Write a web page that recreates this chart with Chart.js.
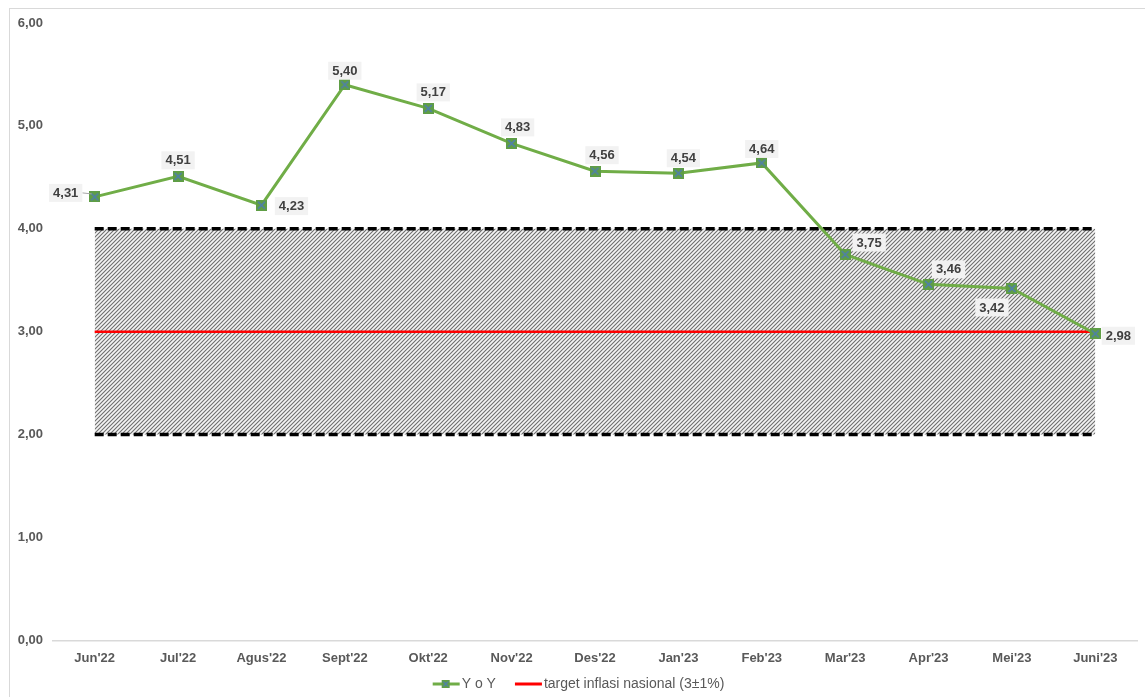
<!DOCTYPE html>
<html>
<head>
<meta charset="utf-8">
<script src="https://cdn.jsdelivr.net/npm/chart.js@4/dist/chart.umd.min.js"></script>
<style>
  html, body { margin: 0; padding: 0; background: #fff; }
  #wrap { position: absolute; left: 0; top: 0; width: 1145px; height: 697px; }
  #frame { position: absolute; left: 9px; top: 8px; width: 1145px; height: 700px; border: 1px solid #d9d9d9; pointer-events: none; }
</style>
</head>
<body>
<div id="wrap"><canvas id="c" width="1145" height="697"></canvas></div>
<div id="frame"></div>
<script>
const categories = ["Jun'22","Jul'22","Agus'22","Sept'22","Okt'22","Nov'22","Des'22","Jan'23","Feb'23","Mar'23","Apr'23","Mei'23","Juni'23"];
const yoyValues = [4.31, 4.51, 4.23, 5.40, 5.17, 4.83, 4.56, 4.54, 4.64, 3.75, 3.46, 3.42, 2.98];
const targetValues = [3, 3, 3, 3, 3, 3, 3, 3, 3, 3, 3, 3, 3];
const bandUpper = [4, 4, 4, 4, 4, 4, 4, 4, 4, 4, 4, 4, 4];
const bandLower = [2, 2, 2, 2, 2, 2, 2, 2, 2, 2, 2, 2, 2];
const yTicks = [0, 1, 2, 3, 4, 5, 6];
const seriesNames = ["Y o Y", "target inflasi nasional (3\u00b11%)"];

const FONT = "'Liberation Sans', Arial, sans-serif";
const fmt = v => v.toFixed(2).replace('.', ',');

function makeHatch() {
  const s = 4;
  const c = document.createElement('canvas');
  c.width = s; c.height = s;
  const g = c.getContext('2d');
  g.fillStyle = '#f4f4f4';
  g.fillRect(0, 0, s, s);
  g.strokeStyle = '#6e6e6e';
  g.lineWidth = 1.1;
  g.beginPath();
  g.moveTo(-1, s + 1); g.lineTo(s + 1, -1);
  g.moveTo(-1, 1); g.lineTo(1, -1);
  g.moveTo(s - 1, s + 1); g.lineTo(s + 1, s - 1);
  g.stroke();
  return document.getElementById('c').getContext('2d').createPattern(c, 'repeat');
}

function makeMarker() {
  const c = document.createElement('canvas');
  c.width = 11; c.height = 11;
  const g = c.getContext('2d');
  g.fillStyle = '#5f9e45';
  g.fillRect(0, 0, 11, 11);
  g.strokeStyle = '#4f7fae';
  g.lineWidth = 1.6;
  g.beginPath();
  g.moveTo(2, 2); g.lineTo(9, 9);
  g.moveTo(9, 2); g.lineTo(2, 9);
  g.stroke();
  return c;
}

// legend symbols: 52px wide canvases, symbol in the right-hand part
function makeLegendYoY() {
  const c = document.createElement('canvas');
  c.width = 52; c.height = 10;
  const g = c.getContext('2d');
  g.strokeStyle = '#70ad47';
  g.lineWidth = 3;
  g.beginPath(); g.moveTo(24, 5); g.lineTo(51, 5); g.stroke();
  g.fillStyle = '#5f9e45';
  g.fillRect(33, 1, 8, 8);
  g.strokeStyle = '#4f7fae';
  g.lineWidth = 1.2;
  g.beginPath();
  g.moveTo(34.5, 2.5); g.lineTo(39.5, 7.5);
  g.moveTo(39.5, 2.5); g.lineTo(34.5, 7.5);
  g.stroke();
  return c;
}

function makeLegendTarget() {
  const c = document.createElement('canvas');
  c.width = 52; c.height = 10;
  const g = c.getContext('2d');
  g.strokeStyle = '#ff0000';
  g.lineWidth = 3;
  g.beginPath(); g.moveTo(24, 5); g.lineTo(51, 5); g.stroke();
  return c;
}

const markerImg = makeMarker();
const legendImgs = [makeLegendYoY(), makeLegendTarget()];

const dataLabelPlugin = {
  id: 'dataLabels',
  afterDatasetsDraw(chart, args, opts) {
    const ctx = chart.ctx;
    const meta = chart.getDatasetMeta(0);
    ctx.save();
    ctx.font = 'bold 13px ' + FONT;
    ctx.textAlign = 'center';
    ctx.textBaseline = 'middle';
    meta.data.forEach((pt, i) => {
      const txt = fmt(yoyValues[i]);
      const off = opts.offsets[i];
      const cx = pt.x + off[0];
      const cy = pt.y + off[1];
      const w = ctx.measureText(txt).width + 8;
      const h = 18;
      if (off[2]) {
        ctx.strokeStyle = '#a6a6a6';
        ctx.lineWidth = 1;
        ctx.beginPath();
        ctx.moveTo(cx + w / 2, cy);
        ctx.lineTo(pt.x - 3, pt.y - 3);
        ctx.stroke();
      }
      ctx.fillStyle = '#f2f2f2';
      ctx.fillRect(cx - w / 2, cy - h / 2, w, h);
      ctx.fillStyle = '#404040';
      ctx.fillText(txt, cx, cy + 0.5);
    });
    ctx.restore();
  }
};

const hatch = makeHatch();

new Chart(document.getElementById('c'), {
  type: 'line',
  data: {
    labels: categories,
    datasets: [
      {
        label: seriesNames[0],
        data: yoyValues,
        borderColor: '#70ad47',
        borderWidth: 3,
        pointStyle: markerImg,
        pointRadius: 5,
        order: 0,
        fill: false
      },
      {
        label: seriesNames[1],
        data: targetValues,
        borderColor: '#ff0000',
        borderWidth: 2.5,
        pointRadius: 0,
        order: 1,
        fill: false
      },
      {
        label: 'bandUpper',
        data: bandUpper,
        borderColor: '#000000',
        borderWidth: 3.5,
        borderDash: [9, 4],
        pointRadius: 0,
        order: 2,
        fill: false
      },
      {
        label: 'bandLower',
        data: bandLower,
        borderColor: '#000000',
        borderWidth: 3.5,
        borderDash: [9, 4],
        backgroundColor: hatch,
        pointRadius: 0,
        order: 3,
        fill: '-1'
      }
    ]
  },
  options: {
    responsive: false,
    animation: false,
    layout: { padding: { top: 23, left: 0, right: 6, bottom: -4 } },
    scales: {
      x: {
        offset: true,
        grid: { display: false, drawTicks: false },
        border: { display: true, color: '#d9d9d9', width: 1.5 },
        ticks: { padding: 10, color: '#595959', font: { family: FONT, size: 13, weight: 'bold' }, maxRotation: 0, autoSkip: false }
      },
      y: {
        min: 0, max: 6,
        afterFit(scale) { scale.width = 53; },
        afterBuildTicks(scale) { scale.ticks = yTicks.map(v => ({ value: v })); },
        grid: { display: false, drawTicks: false },
        border: { display: false },
        ticks: { padding: 10, color: '#595959', font: { family: FONT, size: 13, weight: 'bold' }, callback: v => fmt(v) }
      }
    },
    plugins: {
      filler: { drawTime: 'beforeDatasetsDraw' },
      tooltip: { enabled: false },
      legend: {
        position: 'bottom',
        labels: {
          usePointStyle: true,
          pointStyleWidth: 40,
          boxHeight: 10,
          padding: 1,
          color: '#595959',
          font: { family: FONT, size: 14 },
          filter: item => item.datasetIndex < 2,
          generateLabels(chart) {
            return [0, 1].map(i => ({
              text: seriesNames[i],
              datasetIndex: i,
              pointStyle: legendImgs[i],
              fontColor: '#595959',
              lineWidth: 0,
              strokeStyle: 'transparent',
              fillStyle: 'transparent',
              hidden: false
            }));
          }
        }
      },
      dataLabels: {
        offsets: [
          [-29, -4, true], [0, -16], [30, 1], [0, -14], [5, -16], [6, -16], [7, -16],
          [5, -15], [0, -14], [24, -12], [20, -15], [-20, 19], [23, 2]
        ]
      }
    }
  },
  plugins: [dataLabelPlugin]
});
</script>
</body>
</html>
